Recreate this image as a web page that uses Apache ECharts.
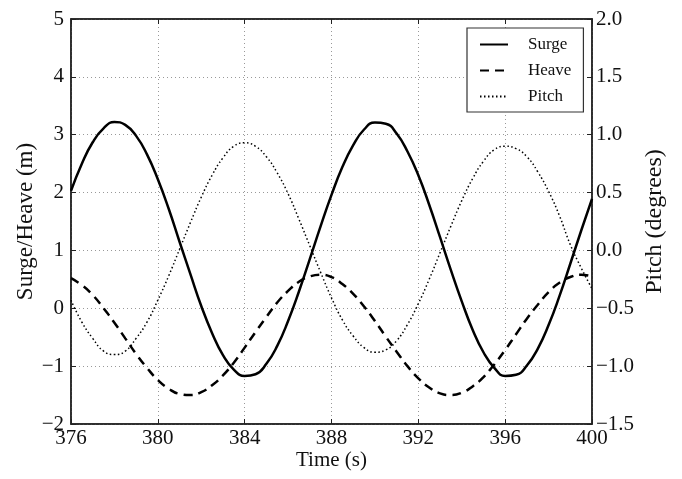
<!DOCTYPE html>
<html>
<head>
<meta charset="utf-8">
<script src="https://cdn.jsdelivr.net/npm/echarts@6/dist/echarts.min.js"></script>
<style>
html,body{margin:0;padding:0;background:#fff;}
#chart{width:682px;height:479px;}
</style>
</head>
<body>
<div id="chart"></div>
<script>
// Time (s)
var times = [376,376.5,377,377.5,378,378.5,379,379.5,380,380.5,381,381.5,382,382.5,383,383.5,384,384.5,385,385.5,386,386.5,387,387.5,388,388.5,389,389.5,390,390.5,391,391.5,392,392.5,393,393.5,394,394.5,395,395.5,396,396.5,397,397.5,398,398.5,399,399.5,400];
// Surge (m)
var surge = [2.03,2.50,2.87,3.11,3.22,3.17,2.98,2.66,2.23,1.72,1.15,0.59,0.04,-0.43,-0.81,-1.06,-1.17,-1.14,-0.96,-0.65,-0.22,0.29,0.85,1.42,1.96,2.44,2.82,3.09,3.21,3.19,3.02,2.71,2.30,1.79,1.23,0.66,0.12,-0.37,-0.76,-1.03,-1.17,-1.15,-0.99,-0.70,-0.29,0.21,0.77,1.34,1.89];
// Heave (m)
var heave = [0.52,0.40,0.23,0.00,-0.25,-0.52,-0.79,-1.03,-1.24,-1.39,-1.48,-1.50,-1.45,-1.33,-1.16,-0.94,-0.68,-0.41,-0.15,0.10,0.30,0.46,0.55,0.58,0.54,0.42,0.25,0.03,-0.22,-0.49,-0.75,-1.00,-1.21,-1.37,-1.47,-1.50,-1.46,-1.35,-1.19,-0.97,-0.72,-0.45,-0.18,0.06,0.28,0.44,0.54,0.58,0.55];
// Pitch (degrees)
var pitch = [-0.43,-0.62,-0.76,-0.87,-0.90,-0.87,-0.76,-0.62,-0.43,-0.22,0.01,0.24,0.46,0.65,0.80,0.90,0.93,0.90,0.81,0.67,0.49,0.27,0.04,-0.19,-0.41,-0.60,-0.74,-0.84,-0.88,-0.86,-0.78,-0.64,-0.46,-0.25,-0.02,0.21,0.43,0.62,0.77,0.87,0.90,0.88,0.81,0.68,0.51,0.30,0.05,-0.15,-0.33];

var xTicks = {min: 376, max: 400, interval: 4};
var leftTicks = {min: -2, max: 5, interval: 1};
var rightTicks = {min: -1.5, max: 2.0, interval: 0.5};

function pairs(xs, ys){ return xs.map(function(x,i){ return [x, ys[i]]; }); }
function minus(s){ return String(s).replace('-', '\u2212'); }

var FONT = '"Liberation Serif", "DejaVu Serif", serif';
var gridLine = {show: true, lineStyle: {color: '#999', width: 1, type: [1, 3]}};

var chart = echarts.init(document.getElementById('chart'));
chart.setOption({
  animation: false,
  backgroundColor: '#fff',
  textStyle: {fontFamily: FONT},
  grid: {left: 71, right: 90, top: 19, bottom: 55, show: true, borderColor: '#222', borderWidth: 1.5, backgroundColor: 'transparent'},
  legend: {
    orient: 'vertical', left: 467, top: 28,
    padding: [8, 12, 7, 12],
    itemWidth: 28, itemHeight: 14, itemGap: 9,
    borderColor: '#333', borderWidth: 1.2, borderRadius: 0,
    backgroundColor: '#fff',
    itemStyle: {color: 'rgba(0,0,0,0)', borderColor: 'rgba(0,0,0,0)', borderWidth: 0},
    textStyle: {fontFamily: FONT, fontSize: 17, color: '#111', lineHeight: 16, padding: [0, 0, 0, 15], width: 43},
    data: ['Surge', 'Heave', 'Pitch']
  },
  xAxis: [{
    type: 'value', min: xTicks.min, max: xTicks.max, interval: xTicks.interval,
    name: 'Time (s)', nameLocation: 'middle', nameGap: 26, nameMoveOverlap: false,
    nameTextStyle: {fontFamily: FONT, fontSize: 21, color: '#111'},
    axisLine: {show: true, onZero: false, lineStyle: {color: '#222', width: 1.5}},
    axisTick: {show: true, inside: true, length: 5, lineStyle: {color: '#222'}},
    axisLabel: {fontFamily: FONT, fontSize: 21, color: '#111', margin: 4},
    splitLine: gridLine
  }, {
    type: 'value', position: 'top', min: xTicks.min, max: xTicks.max, interval: xTicks.interval,
    axisLine: {show: true, onZero: false, lineStyle: {color: '#222', width: 1.5}},
    axisTick: {show: true, inside: true, length: 5, lineStyle: {color: '#222'}},
    axisLabel: {show: false}, splitLine: {show: false}
  }],
  yAxis: [{
    type: 'value', position: 'left', min: leftTicks.min, max: leftTicks.max, interval: leftTicks.interval,
    name: 'Surge/Heave (m)', nameLocation: 'middle', nameGap: 34, nameRotate: 90, nameMoveOverlap: false,
    nameTextStyle: {fontFamily: FONT, fontSize: 23, color: '#111'},
    axisLine: {show: true, onZero: false, lineStyle: {color: '#222', width: 1.5}},
    axisTick: {show: true, inside: true, length: 5, lineStyle: {color: '#222'}},
    axisLabel: {fontFamily: FONT, fontSize: 21, color: '#111', margin: 7, formatter: function(v){ return minus(v); }},
    splitLine: gridLine
  }, {
    type: 'value', position: 'right', min: rightTicks.min, max: rightTicks.max, interval: rightTicks.interval,
    name: 'Pitch (degrees)', nameLocation: 'middle', nameGap: 51, nameRotate: 90, nameMoveOverlap: false,
    nameTextStyle: {fontFamily: FONT, fontSize: 24, color: '#111'},
    axisLine: {show: true, onZero: false, lineStyle: {color: '#222', width: 1.5}},
    axisTick: {show: true, inside: true, length: 5, lineStyle: {color: '#222'}},
    axisLabel: {fontFamily: FONT, fontSize: 21, color: '#111', margin: 4, formatter: function(v){ return minus(v.toFixed(1)); }},
    splitLine: {show: false}
  }],
  series: [{
    name: 'Surge', type: 'line', xAxisIndex: 0, yAxisIndex: 0, data: pairs(times, surge),
    smooth: true, showSymbol: false, symbol: 'none', color: '#000',
    lineStyle: {color: '#000', width: 2.5, type: 'solid'}
  }, {
    name: 'Heave', type: 'line', xAxisIndex: 0, yAxisIndex: 0, data: pairs(times, heave),
    smooth: true, showSymbol: false, symbol: 'none', color: '#000',
    lineStyle: {color: '#000', width: 2.5, type: [9, 6]}
  }, {
    name: 'Pitch', type: 'line', xAxisIndex: 0, yAxisIndex: 1, data: pairs(times, pitch),
    smooth: true, showSymbol: false, symbol: 'none', color: '#000',
    lineStyle: {color: '#000', width: 1.5, type: [1.5, 2.5]}
  }]
});
</script>
</body>
</html>
